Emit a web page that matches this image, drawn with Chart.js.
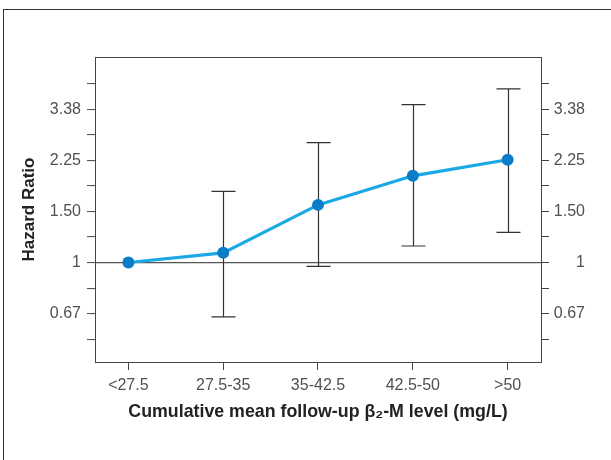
<!DOCTYPE html>
<html>
<head>
<meta charset="utf-8">
<script src="https://cdn.jsdelivr.net/npm/chart.js@4.4.1/dist/chart.umd.min.js"></script>
<style>
  html, body { margin: 0; padding: 0; width: 611px; height: 460px; overflow: hidden; background: #fff; }
  #frame { position: absolute; left: 3px; top: 9px; width: 700px; height: 600px; border: 1.5px solid #333; box-sizing: border-box; }
  #wrap { position: absolute; left: 0; top: 0; width: 611px; height: 460px; }
</style>
</head>
<body>
<div id="frame"></div>
<div id="wrap"><canvas id="c" width="611" height="460"></canvas></div>
<script>
// Exposure groups (cumulative mean follow-up beta-2 microglobulin, mg/L)
const categories = ['<27.5', '27.5-35', '35-42.5', '42.5-50', '>50'];
// Hazard ratios and 95% confidence limits
const hazardRatio = [1.00, 1.08, 1.58, 1.99, 2.26];
const ciLower     = [null, 0.65, 0.97, 1.14, 1.27];
const ciUpper     = [null, 1.76, 2.59, 3.50, 3.97];
// Log-scale y ticks (labelled every other tick)
const yTickValues = [0.544, 0.667, 0.816, 1, 1.225, 1.5, 1.837, 2.25, 2.756, 3.375, 4.134];
const yTickLabels = ['', '0.67', '', '1', '', '1.50', '', '2.25', '', '3.38', ''];

const tickFont = { family: 'Liberation Sans, Arial, sans-serif', size: 16 };
const xTitleFont = { family: 'Liberation Sans, Arial, sans-serif', size: 17.8, weight: 'bold' };
const yTitleFont = { family: 'Liberation Sans, Arial, sans-serif', size: 17, weight: 'bold' };
const axisColor = '#444';
const labelColor = '#505050';

const errorBars = {
  id: 'errorBars',
  beforeDatasetsDraw(chart) {
    const { ctx, chartArea, scales: { x, y } } = chart;
    ctx.save();
    // top edge of the plot box
    ctx.strokeStyle = axisColor;
    ctx.lineWidth = 1;
    ctx.beginPath();
    ctx.moveTo(chartArea.left, Math.round(chartArea.top) + 0.5);
    ctx.lineTo(chartArea.right, Math.round(chartArea.top) + 0.5);
    ctx.stroke();
    // confidence intervals
    ctx.strokeStyle = '#333';
    ctx.lineWidth = 1.2;
    const cap = 12;
    categories.forEach((_, i) => {
      if (ciLower[i] == null || ciUpper[i] == null) return;
      const px = Math.round(x.getPixelForValue(i)) + 0.5;
      const yl = y.getPixelForValue(ciLower[i]);
      const yu = y.getPixelForValue(ciUpper[i]);
      ctx.beginPath();
      ctx.moveTo(px, yl); ctx.lineTo(px, yu);
      ctx.moveTo(px - cap, yl); ctx.lineTo(px + cap, yl);
      ctx.moveTo(px - cap, yu); ctx.lineTo(px + cap, yu);
      ctx.stroke();
    });
    ctx.restore();
  }
};

const yCommon = {
  type: 'logarithmic',
  min: 0.454,
  max: 5.11,
  afterBuildTicks(scale) { scale.ticks = yTickValues.map(v => ({ value: v })); },
  border: { display: true, color: axisColor, width: 1 },
};

new Chart(document.getElementById('c'), {
  type: 'line',
  data: {
    datasets: [{
      data: hazardRatio.map((v, i) => ({ x: i, y: v })),
      borderColor: '#1aa9e6',
      borderWidth: 3.2,
      pointRadius: 6,
      pointHoverRadius: 6,
      pointBackgroundColor: '#0a7cc8',
      pointBorderWidth: 0,
      tension: 0,
      yAxisID: 'y'
    }]
  },
  options: {
    responsive: false,
    animation: false,
    events: [],
    layout: { padding: { top: 57, left: 0, right: 26, bottom: 0 } },
    plugins: { legend: { display: false }, tooltip: { enabled: false } },
    scales: {
      x: {
        type: 'linear',
        min: -0.352,
        max: 4.352,
        afterBuildTicks(scale) { scale.ticks = categories.map((_, i) => ({ value: i })); },
        afterFit(scale) { scale.height = 98; },
        ticks: {
          autoSkip: false, maxRotation: 0, padding: 6,
          font: tickFont, color: labelColor,
          callback: (v) => categories[v]
        },
        grid: { drawOnChartArea: false, tickLength: 8, tickColor: axisColor, tickWidth: 1 },
        border: { display: true, color: axisColor, width: 1 },
        title: {
          display: true,
          text: 'Cumulative mean follow-up β₂-M level (mg/L)',
          font: xTitleFont, color: '#222',
          padding: { top: 0, bottom: 37 }
        }
      },
      y: {
        ...yCommon,
        position: 'left',
        afterFit(scale) { scale.width = 95; },
        ticks: {
          autoSkip: false, padding: 6, font: tickFont, color: labelColor,
          callback: (v, i) => yTickLabels[i]
        },
        grid: {
          drawOnChartArea: true,
          color: (c) => (c.tick && c.tick.value === 1 ? '#555' : 'rgba(0,0,0,0)'),
          lineWidth: 1.2,
          tickLength: 8, tickColor: axisColor, tickWidth: 1
        },
        title: {
          display: true, text: 'Hazard Ratio',
          font: yTitleFont, color: '#222',
          padding: { top: 19, bottom: 0 }
        }
      },
      y2: {
        ...yCommon,
        position: 'right',
        afterFit(scale) { scale.width = 44; },
        ticks: {
          autoSkip: false, padding: 7, crossAlign: 'far', font: tickFont, color: labelColor,
          callback: (v, i) => yTickLabels[i]
        },
        grid: { drawOnChartArea: false, tickLength: 8, tickColor: axisColor, tickWidth: 1 }
      }
    }
  },
  plugins: [errorBars]
});
</script>
</body>
</html>
